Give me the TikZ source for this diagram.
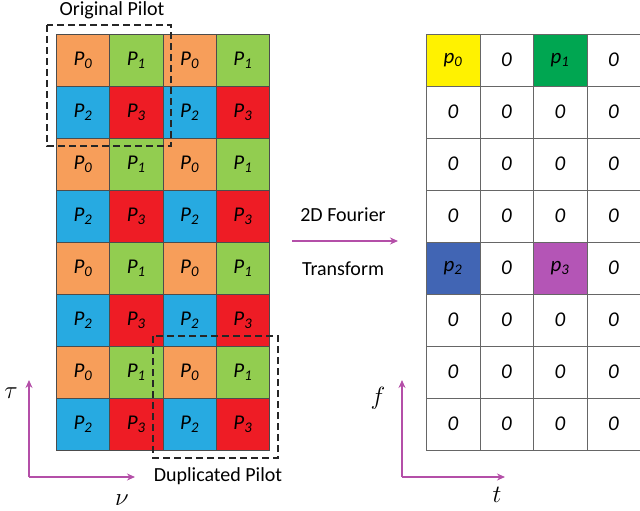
\documentclass[tikz,border=0pt]{standalone}
\usepackage{fontspec}
\setmainfont{Carlito}
\usetikzlibrary{arrows.meta}
\definecolor{cor}{HTML}{F79E5A}
\definecolor{cgr}{HTML}{92CD50}
\definecolor{cbl}{HTML}{27AAE1}
\definecolor{crd}{HTML}{EE1C25}
\definecolor{ryel}{HTML}{FFF200}
\definecolor{rgrn}{HTML}{00A651}
\definecolor{rblu}{HTML}{4165B4}
\definecolor{rpur}{HTML}{B455B6}
\definecolor{axc}{HTML}{B44FA8}
\begin{document}
\begin{tikzpicture}[x=1pt,y=-1pt,
  cell/.style={draw=black!70,line width=0.6pt,minimum width=53.3pt,minimum height=52pt,inner sep=0pt,anchor=north west,font=\fontsize{21}{21}\selectfont\itshape},
  rcell/.style={draw=black!60,line width=0.5pt,minimum width=53.5pt,minimum height=52pt,inner sep=0pt,anchor=north west,font=\fontsize{21}{21}\selectfont\itshape},
  dbox/.style={draw=black!85,dashed,dash pattern=on 7pt off 4pt,line width=1.4pt},
  axis/.style={draw=axc,line width=1.3pt,-{Stealth[length=8pt,width=7pt]}},
  lbl/.style={font=\fontsize{20}{20}\selectfont}]
\useasboundingbox (0,0) rectangle (640,511);
\foreach \r in {0,2,4,6}{
  \foreach \c in {0,2}{
    \node[cell,fill=cor] (a\r\c) at ({56+\c*53.3},{34+\r*52}) {P\textsubscript{0}};
    \node[cell,fill=cgr] (b\r\c) at ({56+(\c+1)*53.3},{34+\r*52}) {P\textsubscript{1}};
    \node[cell,fill=cbl] (c\r\c) at ({56+\c*53.3},{34+(\r+1)*52}) {P\textsubscript{2}};
    \node[cell,fill=crd] (d\r\c) at ({56+(\c+1)*53.3},{34+(\r+1)*52}) {P\textsubscript{3}};
  }}
\draw[dbox] (47,25) rectangle (171,146);
\node[lbl] (orig) at (112,10) {Original Pilot};
\draw[dbox] (153,336) rectangle (278,458);
\node[lbl] (dup) at (218,476) {Duplicated Pilot};
\foreach \r in {0,...,7}{
  \foreach \c in {0,...,3}{
    \pgfmathtruncatemacro{\sp}{(\r==0 || \r==4) && (\c==0 || \c==2) ? 1 : 0}
    \ifnum\sp=0
      \node[rcell] (z\r\c) at ({426+\c*53.5},{34+\r*52}) {0};
    \fi
  }}
\node[rcell,fill=ryel] (q0) at (426,34) {p\textsubscript{0}};
\node[rcell,fill=rgrn] (q1) at (533,34) {p\textsubscript{1}};
\node[rcell,fill=rblu] (q2) at (426,242) {p\textsubscript{2}};
\node[rcell,fill=rpur] (q3) at (533,242) {p\textsubscript{3}};
% axes
\coordinate (o1) at (29,477); \coordinate (t1) at (29,380); \coordinate (n1) at (135,477);
\draw[axis] (o1) -- (t1); \draw[axis] (o1) -- (n1);
\node (tau) at (11,393) {\fontsize{26}{26}\selectfont$\tau$};
\node (nu) at (122,500) {\fontsize{26}{26}\selectfont$\nu$};
\coordinate (o2) at (402,477); \coordinate (t2) at (402,380); \coordinate (n2) at (505,477);
\draw[axis] (o2) -- (t2); \draw[axis] (o2) -- (n2);
\node (ff) at (378,398) {\fontsize{26}{26}\selectfont$f$};
\node (tt) at (497,495) {\fontsize{26}{26}\selectfont$t$};
\coordinate (m1) at (292,241); \coordinate (m2) at (398,241);
\draw[axis] (m1) -- (m2);
\node[lbl] (ft1) at (343,215) {2D Fourier};
\node[lbl] (ft2) at (343,269) {Transform};
\end{tikzpicture}
\end{document}
